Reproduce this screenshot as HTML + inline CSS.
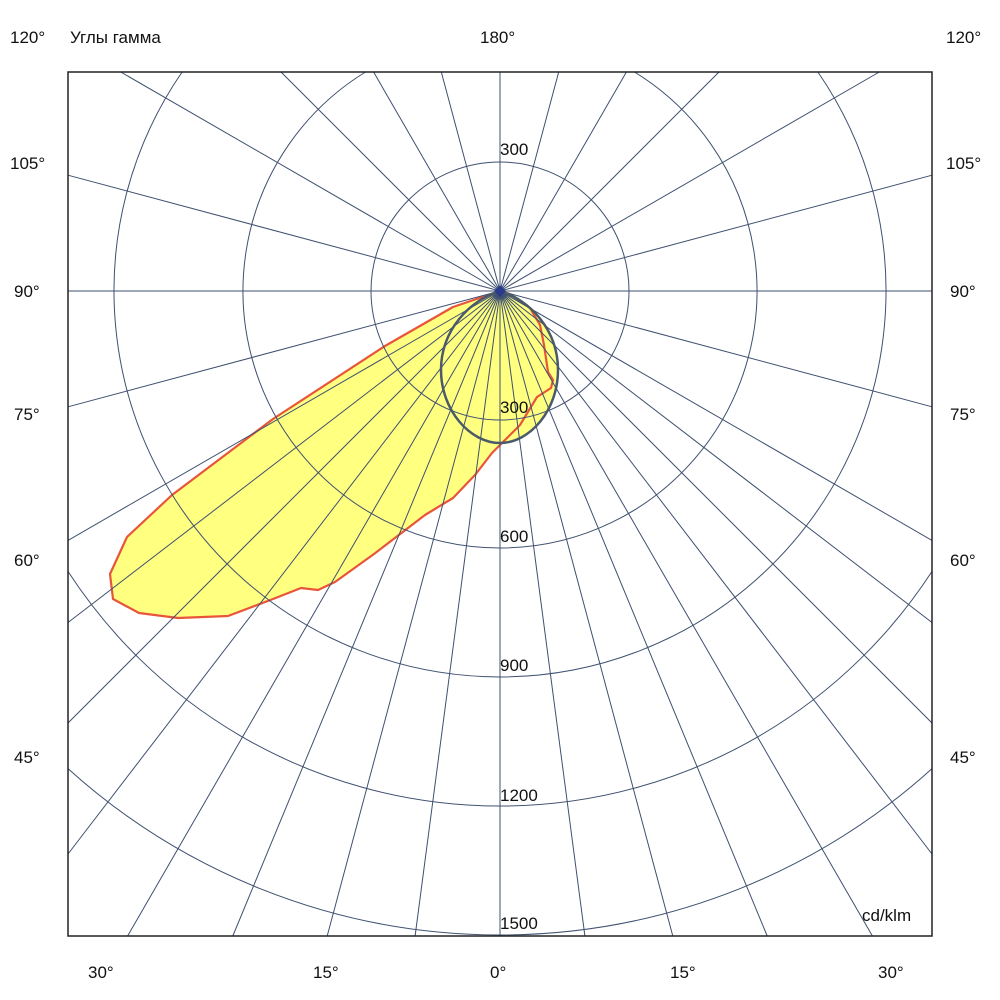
<!DOCTYPE html>
<html><head><meta charset="utf-8"><style>
html,body{margin:0;padding:0;background:#fff;width:1000px;height:1000px;overflow:hidden;}
svg{display:block;}
text{font-family:"Liberation Sans",Arial,sans-serif;font-size:17px;fill:#111;}
</style></head><body>
<svg width="1000" height="1000" viewBox="0 0 1000 1000" xmlns="http://www.w3.org/2000/svg">
<rect width="1000" height="1000" fill="#fff"/>
<path d="M500,291 C470,300 441,330 441,370 C441,410 470,443 500,443 C530,443 558,410 558,370 C558,330 530,300 500,291 Z" fill="#ffff80"/>
<path d="M500,291 L453,307 L385,346 L273,419 L172,495 L127,537 L110,574 L113,599 L139,613 L178,618 L228,616 L273,599 L301,588 L318,590 L335,582 L374,554 L425,515 L453,498 L475,475 L492,453 L503,442 L520,425 L537,397 L551,388 L553,380 L548,372 L544,345 L540,325 L530,308 L510,294 Z" fill="#ffff80" stroke="#e8553a" stroke-width="2.2" stroke-linejoin="round"/>
<g fill="none" stroke="#3f5070" stroke-width="1">
<circle cx="500" cy="291" r="129"/>
<path d="M634.5,72 A257,257 0 1 1 365.5,72"/>
<path d="M817.9,72 A386,386 0 1 1 182.1,72"/>
<path d="M932,571.4 A515,515 0 0 1 68,571.4"/>
<path d="M932,768.6 A644,644 0 0 1 68,768.6"/>
<line x1="68" y1="291" x2="932" y2="291"/>
<line x1="500" y1="72" x2="500" y2="936"/>
<path d="M500,291L415.1,936M500,291L584.9,936M500,291L327.2,936M500,291L672.8,936M500,291L232.8,936M500,291L767.2,936M500,291L127.6,936M500,291L872.4,936M500,291L68,854M500,291L932,854M500,291L68,723M500,291L932,723M500,291L68,622.5M500,291L932,622.5M500,291L68,540.4M500,291L932,540.4M500,291L68,406.8M500,291L932,406.8M500,291L68,175.2M500,291L932,175.2M500,291L120.7,72M500,291L879.3,72M500,291L281,72M500,291L719,72M500,291L373.6,72M500,291L626.4,72M500,291L441.3,72M500,291L558.7,72"/>
</g>
<path d="M500,291 C470,300 441,330 441,370 C441,410 470,443 500,443 C530,443 558,410 558,370 C558,330 530,300 500,291 Z" fill="none" stroke="#4a5a6a" stroke-width="2.5"/>
<rect x="68" y="72" width="864" height="864" fill="none" stroke="#222" stroke-width="1.5"/>
<path d="M494,291 L500,285 L506,291 L500,297 Z" fill="#2a3a8a"/>
<text x="500" y="155">300</text>
<text x="500" y="413">300</text>
<text x="500" y="542">600</text>
<text x="500" y="671">900</text>
<text x="500" y="801">1200</text>
<text x="500" y="929">1500</text>
<text x="862" y="921">cd/klm</text>
<text x="10" y="43">120°</text>
<text x="70" y="43">Углы гамма</text>
<text x="480" y="43">180°</text>
<text x="946" y="43">120°</text>
<text x="10" y="169">105°</text><text x="946" y="169">105°</text>
<text x="14" y="297">90°</text><text x="950" y="297">90°</text>
<text x="14" y="420">75°</text><text x="950" y="420">75°</text>
<text x="14" y="566">60°</text><text x="950" y="566">60°</text>
<text x="14" y="763">45°</text><text x="950" y="763">45°</text>
<text x="88" y="978">30°</text>
<text x="313" y="978">15°</text>
<text x="490" y="978">0°</text>
<text x="670" y="978">15°</text>
<text x="878" y="978">30°</text>
</svg>
</body></html>
